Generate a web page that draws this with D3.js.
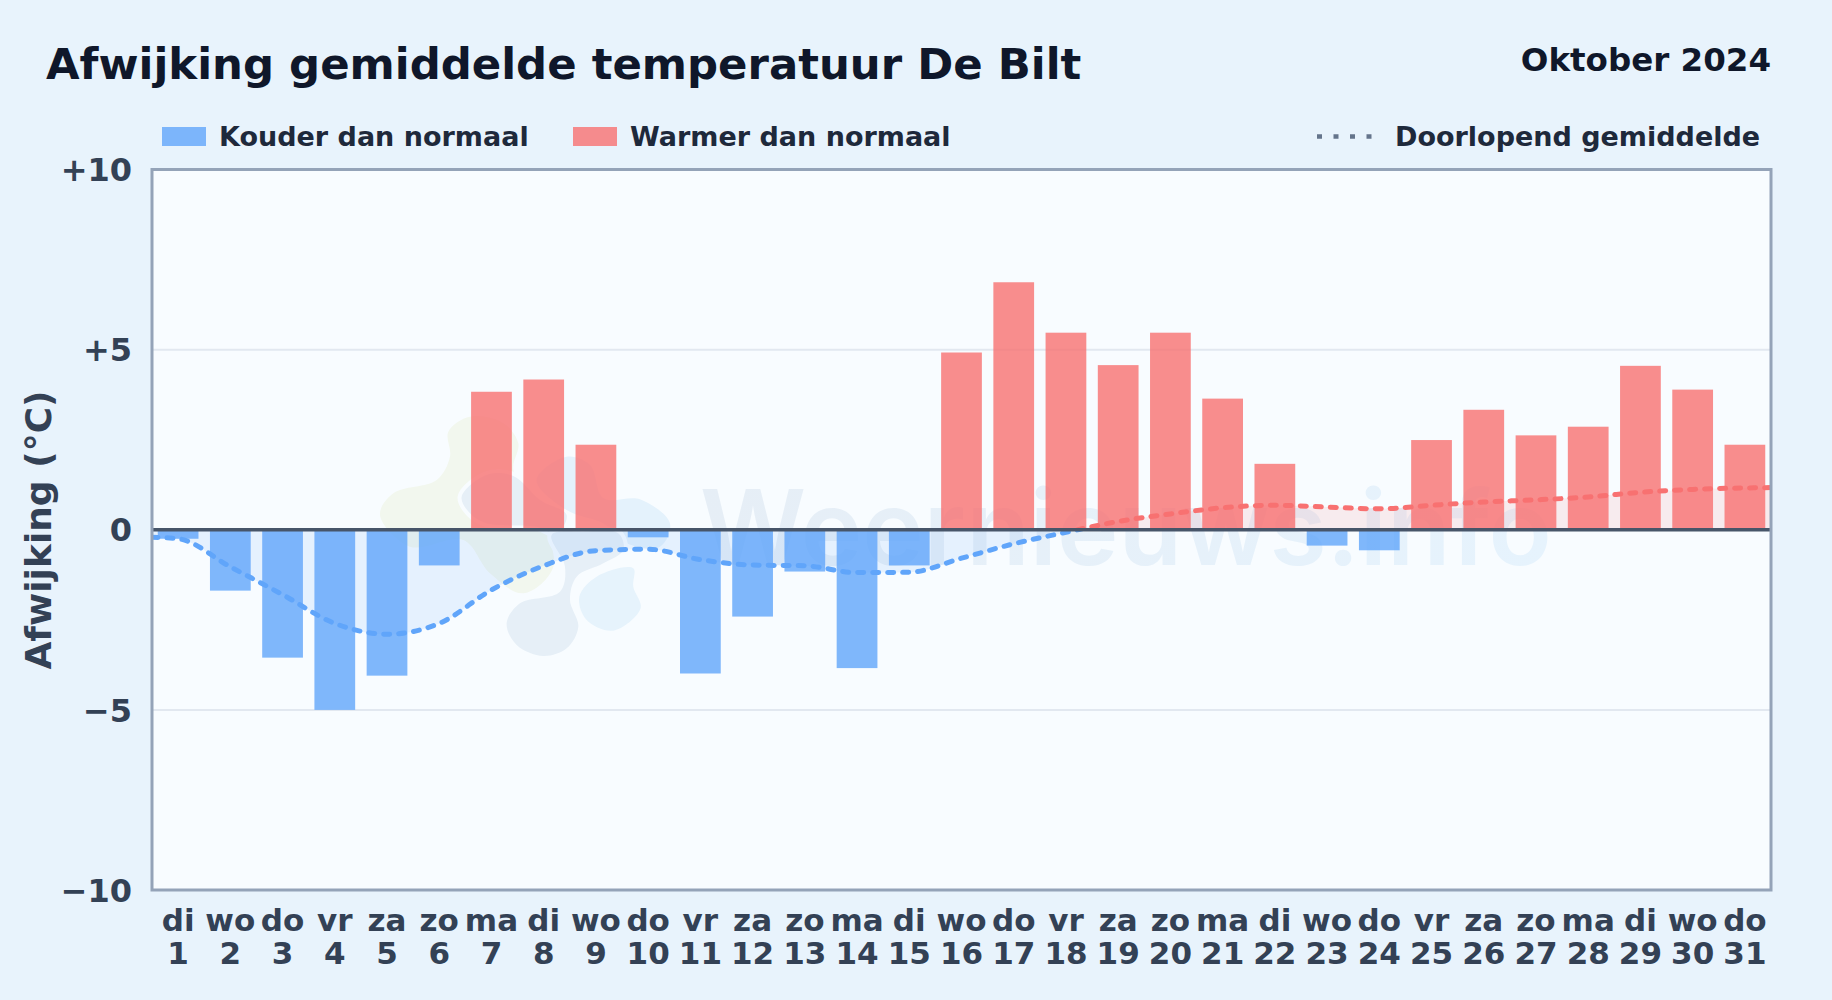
<!DOCTYPE html>
<html>
<head>
<meta charset="utf-8">
<title>Afwijking gemiddelde temperatuur De Bilt</title>
<script src="https://cdn.jsdelivr.net/npm/d3@7"></script>
<style>
  html, body { margin: 0; padding: 0; background: #e8f3fc; }
  svg { display: block; font-family: "DejaVu Sans", sans-serif; font-weight: 700; }
</style>
</head>
<body>
<svg width="1832" height="1000"></svg>
<script>
var weekdays = ["di","wo","do","vr","za","zo","ma","di","wo","do","vr","za","zo","ma","di","wo","do","vr","za","zo","ma","di","wo","do","vr","za","zo","ma","di","wo","do"];
var days = d3.range(1, 32);

// daily anomaly
var anomaly = [-0.25,-1.69,-3.55,-5.0,-4.05,-0.99,3.83,4.17,2.36,-0.21,-3.99,-2.41,-1.16,-3.84,-0.99,4.92,6.87,5.47,4.57,5.47,3.64,1.83,-0.44,-0.57,2.49,3.33,2.62,2.86,4.55,3.89,2.36];

// running mean (it runs on to both plot edges)
var runningMean = [-0.25,-1.03,-1.8,-2.6,-2.9,-2.6,-1.67,-1.0,-0.58,-0.54,-0.83,-0.98,-1.0,-1.19,-1.18,-0.79,-0.39,-0.07,0.23,0.44,0.61,0.68,0.63,0.58,0.68,0.77,0.83,0.91,1.04,1.12,1.16];
var runningStart = -0.21, runningEnd = 1.17;

var yTicks = [-10, -5, 0, 5, 10];

var svg = d3.select("svg"),
    margin = {top: 169.5, right: 61, bottom: 110, left: 152},
    width = 1832 - margin.left - margin.right,
    height = 1000 - margin.top - margin.bottom;

var blue = "#60a5fa", red = "#f87171", plotBg = "#f8fcff";

var x = d3.scaleBand().domain(days).range([0, width]).paddingInner(0.22).paddingOuter(0.11),
    xLine = d3.scaleLinear().domain([0.5, 31.5]).range([0, width]),
    y = d3.scaleLinear().domain([-10, 10]).range([height, 0]);

var defs = svg.append("defs");

var grad = defs.append("linearGradient").attr("id", "wmGrad");
grad.append("stop").attr("offset", "0%").attr("stop-color", "#e6eef6");
grad.append("stop").attr("offset", "100%").attr("stop-color", "#e6f3fd");

defs.append("clipPath").attr("id", "aboveZero").append("rect").attr("width", width).attr("height", y(0));
defs.append("clipPath").attr("id", "belowZero").append("rect").attr("y", y(0)).attr("width", width).attr("height", height - y(0));

// header
svg.append("text").attr("x", 46).attr("y", 79).attr("font-size", 43.4).attr("fill", "#0f172a")
    .text("Afwijking gemiddelde temperatuur De Bilt");
svg.append("text").attr("x", 1771).attr("y", 70.5).attr("font-size", 32.5).attr("text-anchor", "end").attr("fill", "#0f172a")
    .text("Oktober 2024");

// legend
var legend = svg.append("g").attr("font-size", 27).attr("fill", "#1e293b");
legend.append("rect").attr("x", 162).attr("y", 127).attr("width", 44).attr("height", 19).attr("fill", blue).attr("fill-opacity", 0.8);
legend.append("text").attr("x", 219).attr("y", 146).text("Kouder dan normaal");
legend.append("rect").attr("x", 573).attr("y", 127).attr("width", 44).attr("height", 19).attr("fill", red).attr("fill-opacity", 0.8);
legend.append("text").attr("x", 630).attr("y", 146).text("Warmer dan normaal");
legend.append("line").attr("x1", 1317).attr("x2", 1374).attr("y1", 136.5).attr("y2", 136.5)
    .attr("stroke", "#64748b").attr("stroke-width", 4.5).attr("stroke-dasharray", "5 11.5");
legend.append("text").attr("x", 1395).attr("y", 146).text("Doorlopend gemiddelde");

var g = svg.append("g").attr("transform", "translate(" + margin.left + "," + margin.top + ")");

g.append("rect").attr("width", width).attr("height", height).attr("fill", plotBg);

// faint logo + name behind the chart, outlines in 3x px of the crop at (370,400)
var blobs = [
  {fill: "#f2f7ee", halo: 0, pts: [[235,95],[300,50],[400,70],[445,130],[430,210],[500,330],[550,500],[460,580],[360,520],[280,420],[120,440],[30,345],[70,280],[200,240],[240,170]]},
  {fill: "#e6eff7", halo: 24, pts: [[275,290],[350,225],[430,228],[510,300],[590,345],[560,400],[500,380],[350,370],[300,340]]},
  {fill: "#e4f2fc", halo: 0, pts: [[500,240],[590,170],[660,195],[700,295],[810,298],[900,370],[870,440],[770,430],[700,370],[590,330]]},
  {fill: "#e6eff7", halo: 24, pts: [[410,670],[450,610],[570,575],[585,500],[545,405],[640,395],[745,400],[760,450],[700,490],[620,530],[600,600],[625,680],[590,745],[520,768],[440,735]]},
  {fill: "#e6f3fc", halo: 24, pts: [[628,590],[680,530],[790,505],[790,560],[812,625],[730,692],[650,660]]}
];
var blobG = g.append("g")
    .attr("transform", "translate(" + (370 - margin.left) + "," + (400 - margin.top) + ") scale(0.3333)");
var blobLine = d3.line().curve(d3.curveCatmullRomClosed.alpha(0.5));
blobG.selectAll("path").data(blobs).enter().append("path")
    .attr("d", function(d) { return blobLine(d.pts); })
    .attr("fill", function(d) { return d.fill; })
    .attr("stroke", plotBg).attr("stroke-width", function(d) { return d.halo; })
    .attr("paint-order", "stroke");

g.append("text").attr("x", 700 - margin.left).attr("y", 565 - margin.top)
    .attr("font-family", "Inter").attr("font-weight", 600).attr("font-size", 104)
    .attr("fill", "url(#wmGrad)").text("Weernieuws.info");

// grid lines
g.selectAll(".grid").data(yTicks.filter(function(d) { return Math.abs(d) === 5; }))
  .enter().append("line").attr("class", "grid")
    .attr("x1", 0).attr("x2", width)
    .attr("y1", function(d) { return y(d); }).attr("y2", function(d) { return y(d); })
    .attr("stroke", "#e2e8f0").attr("stroke-width", 2);

// running mean points incl. the two plot edges
var linePts = [[0.5, runningStart]]
    .concat(runningMean.map(function(d, i) { return [days[i], d]; }))
    .concat([[31.5, runningEnd]]);

var area = d3.area().curve(d3.curveMonotoneX)
    .x(function(d) { return xLine(d[0]); }).y0(y(0)).y1(function(d) { return y(d[1]); });
var line = d3.line().curve(d3.curveMonotoneX)
    .x(function(d) { return xLine(d[0]); }).y(function(d) { return y(d[1]); });

[["belowZero", blue], ["aboveZero", red]].forEach(function(s) {
  g.append("path").attr("d", area(linePts)).attr("fill", s[1]).attr("fill-opacity", 0.12)
      .attr("clip-path", "url(#" + s[0] + ")");
});

// bars
g.selectAll(".bar").data(anomaly)
  .enter().append("rect").attr("class", "bar")
    .attr("x", function(d, i) { return x(days[i]); })
    .attr("y", function(d) { return y(Math.max(d, 0)); })
    .attr("width", x.bandwidth())
    .attr("height", function(d) { return Math.abs(y(d) - y(0)); })
    .attr("fill", function(d) { return d < 0 ? blue : red; })
    .attr("fill-opacity", 0.8);

// dotted running mean, colour flips at zero
[["belowZero", blue], ["aboveZero", red]].forEach(function(s) {
  g.append("path").attr("d", line(linePts)).attr("fill", "none")
      .attr("stroke", s[1]).attr("stroke-width", 5)
      .attr("stroke-linecap", "round").attr("stroke-dasharray", "6 9")
      .attr("clip-path", "url(#" + s[0] + ")");
});

// zero line and frame
g.append("line").attr("x1", 0).attr("x2", width).attr("y1", y(0)).attr("y2", y(0))
    .attr("stroke", "#475569").attr("stroke-width", 3.5);
g.append("rect").attr("width", width).attr("height", height)
    .attr("fill", "none").attr("stroke", "#94a3b8").attr("stroke-width", 3);

// y axis
var yAxis = g.append("g").attr("class", "axis axis--y")
    .call(d3.axisLeft(y).tickValues(yTicks).tickSize(0).tickPadding(20)
      .tickFormat(function(d) { return d > 0 ? "+" + d : d < 0 ? "\u2212" + Math.abs(d) : "0"; }));
yAxis.select(".domain").remove();
yAxis.selectAll("text").attr("font-size", 32).attr("fill", "#334155")
    .attr("font-family", "DejaVu Sans").attr("font-weight", 700).attr("dy", "0.35em");

// x axis, weekday over day number
var xAxis = g.append("g").attr("class", "axis axis--x")
    .attr("transform", "translate(0," + height + ")")
    .call(d3.axisBottom(x).tickSize(0).tickFormat(""));
xAxis.select(".domain").remove();
xAxis.selectAll(".tick text").remove();
xAxis.selectAll(".tick").each(function(d, i) {
  var t = d3.select(this);
  t.append("text").attr("y", 40.5).attr("text-anchor", "middle").text(weekdays[i]);
  t.append("text").attr("y", 73.5).attr("text-anchor", "middle").text(d);
});
xAxis.selectAll("text").attr("font-size", 31).attr("fill", "#334155")
    .attr("font-family", "DejaVu Sans").attr("font-weight", 700);

// y title
svg.append("text").attr("transform", "translate(51,530) rotate(-90)")
    .attr("text-anchor", "middle").attr("font-size", 36).attr("fill", "#334155")
    .text("Afwijking (°C)");
</script>
</body>
</html>
